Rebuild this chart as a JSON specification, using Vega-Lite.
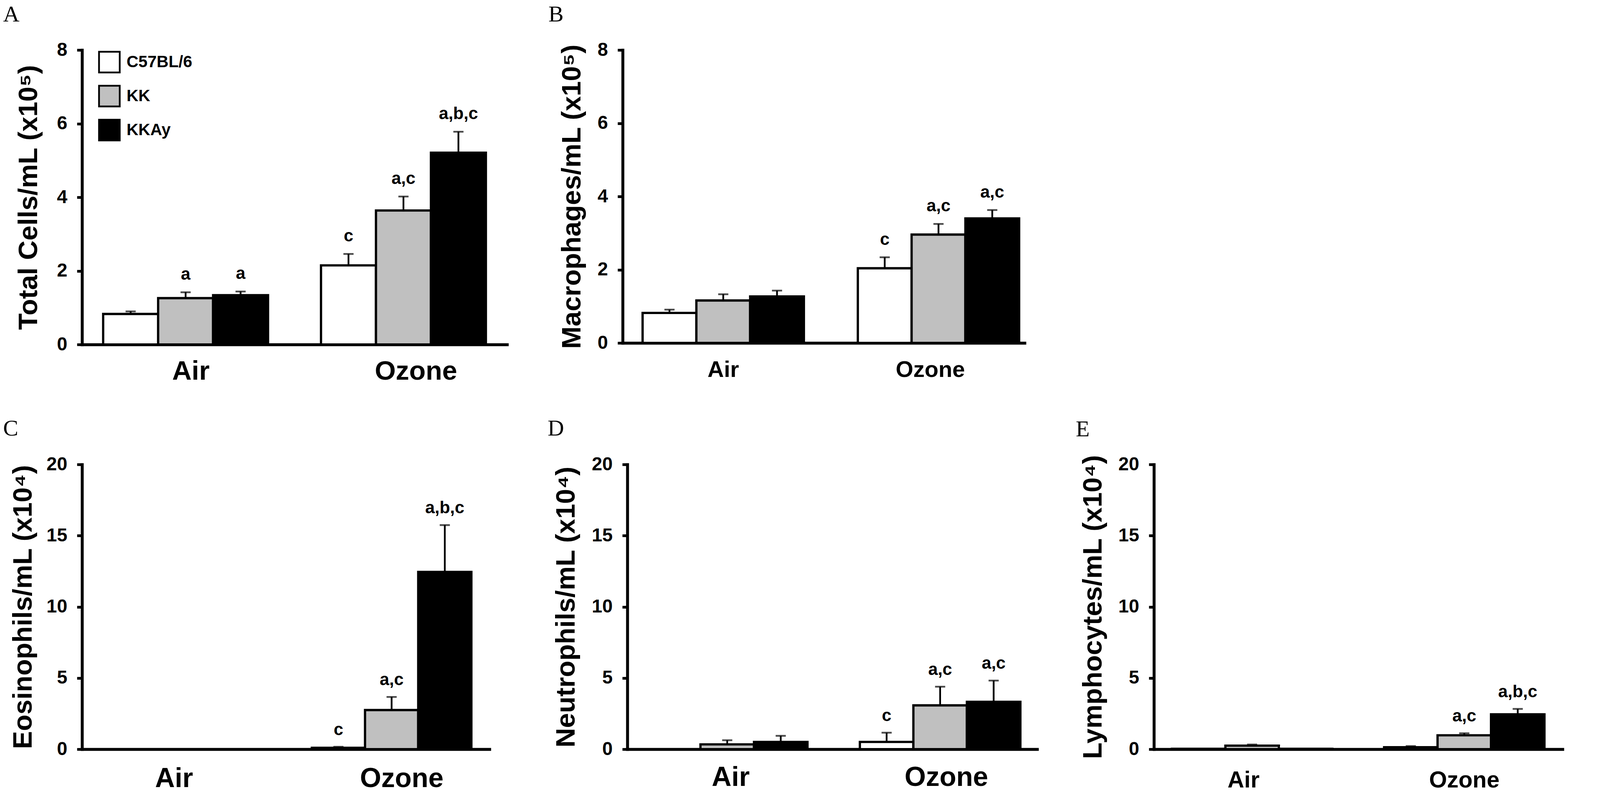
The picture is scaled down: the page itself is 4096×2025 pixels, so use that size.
{
  "$schema": "https://vega.github.io/schema/vega-lite/v6.json",
  "background": "white",
  "padding": {"left": 8, "top": 9, "right": 10, "bottom": 0},
  "config": {
    "view": {"stroke": null},
    "font": "Liberation Sans",
    "axis": {"domainColor": "black", "domainWidth": 7.5, "domainCap": "square", "tickColor": "black", "tickWidth": 7, "tickSize": 13, "labelColor": "black", "labelFont": "Liberation Sans", "labelFontWeight": "bold", "labelLimit": 0, "titleColor": "black", "titleFont": "Liberation Sans", "titleFontWeight": "bold", "titleFontSize": 69, "titleLimit": 0, "grid": false},
    "axisX": {"ticks": false, "labelAngle": 0, "title": null},
    "axisY": {"labelFontSize": 48, "labelPadding": 25, "format": "d"},
    "legend": {"labelLimit": 0},
    "title": {"font": "Liberation Serif", "fontSize": 58, "fontWeight": "normal", "color": "black", "anchor": "start", "frame": "group", "offset": 0, "baseline": "alphabetic"}
  },
  "datasets": {
    "A": [
      {"exposure": "Air", "strain": "C57BL/6", "value": 0.83, "err": 0.90, "sig": ""},
      {"exposure": "Air", "strain": "KK", "value": 1.26, "err": 1.42, "sig": "a"},
      {"exposure": "Air", "strain": "KKAy", "value": 1.34, "err": 1.44, "sig": "a"},
      {"exposure": "Ozone", "strain": "C57BL/6", "value": 2.15, "err": 2.46, "sig": "c"},
      {"exposure": "Ozone", "strain": "KK", "value": 3.64, "err": 4.02, "sig": "a,c"},
      {"exposure": "Ozone", "strain": "KKAy", "value": 5.21, "err": 5.78, "sig": "a,b,c"}
    ],
    "B": [
      {"exposure": "Air", "strain": "C57BL/6", "value": 0.82, "err": 0.91, "sig": ""},
      {"exposure": "Air", "strain": "KK", "value": 1.16, "err": 1.33, "sig": ""},
      {"exposure": "Air", "strain": "KKAy", "value": 1.27, "err": 1.43, "sig": ""},
      {"exposure": "Ozone", "strain": "C57BL/6", "value": 2.04, "err": 2.34, "sig": "c"},
      {"exposure": "Ozone", "strain": "KK", "value": 2.96, "err": 3.25, "sig": "a,c"},
      {"exposure": "Ozone", "strain": "KKAy", "value": 3.40, "err": 3.63, "sig": "a,c"}
    ],
    "C": [
      {"exposure": "Air", "strain": "C57BL/6", "value": 0, "sig": ""},
      {"exposure": "Air", "strain": "KK", "value": 0, "sig": ""},
      {"exposure": "Air", "strain": "KKAy", "value": 0, "sig": ""},
      {"exposure": "Ozone", "strain": "C57BL/6", "value": 0.1, "err": 0.17, "sig": "c"},
      {"exposure": "Ozone", "strain": "KK", "value": 2.75, "err": 3.67, "sig": "a,c"},
      {"exposure": "Ozone", "strain": "KKAy", "value": 12.45, "err": 15.74, "sig": "a,b,c"}
    ],
    "D": [
      {"exposure": "Air", "strain": "C57BL/6", "value": 0, "sig": ""},
      {"exposure": "Air", "strain": "KK", "value": 0.34, "err": 0.63, "sig": ""},
      {"exposure": "Air", "strain": "KKAy", "value": 0.51, "err": 0.94, "sig": ""},
      {"exposure": "Ozone", "strain": "C57BL/6", "value": 0.51, "err": 1.16, "sig": "c"},
      {"exposure": "Ozone", "strain": "KK", "value": 3.08, "err": 4.39, "sig": "a,c"},
      {"exposure": "Ozone", "strain": "KKAy", "value": 3.33, "err": 4.82, "sig": "a,c"}
    ],
    "E": [
      {"exposure": "Air", "strain": "C57BL/6", "value": 0.03, "sig": ""},
      {"exposure": "Air", "strain": "KK", "value": 0.25, "err": 0.33, "sig": ""},
      {"exposure": "Air", "strain": "KKAy", "value": 0.03, "sig": ""},
      {"exposure": "Ozone", "strain": "C57BL/6", "value": 0.14, "err": 0.22, "sig": ""},
      {"exposure": "Ozone", "strain": "KK", "value": 0.98, "err": 1.12, "sig": "a,c"},
      {"exposure": "Ozone", "strain": "KKAy", "value": 2.45, "err": 2.83, "sig": "a,b,c"}
    ]
  },
  "spacing": 1061,
  "bounds": "flush",
  "resolve": {"scale": {"color": "independent", "xOffset": "independent"}, "legend": {"color": "independent"}},
  "vconcat": [
    {
      "spacing": 296,
      "bounds": "flush",
      "resolve": {"scale": {"color": "independent", "xOffset": "independent"}, "legend": {"color": "independent"}},
      "hconcat": [
        {
          "width": 1088, "height": 754,
          "title": {"text": "A", "dx": -202, "dy": -33},
          "data": {"name": "A"},
          "encoding": {
            "x": {"field": "exposure", "type": "nominal", "sort": ["Air", "Ozone"],
              "scale": {"paddingInner": 0.243, "paddingOuter": 0.097, "align": 0.5},
              "axis": {"labelFontSize": 69, "labelPadding": 34, "labelOffset": {"condition": {"test": "datum.value === 'Ozone'", "value": 32}, "value": 13.5}}},
            "xOffset": {"field": "strain", "type": "nominal", "sort": ["C57BL/6", "KK", "KKAy"], "scale": {"paddingInner": 0, "paddingOuter": 0}}
          },
          "layer": [
            {"mark": {"type": "bar", "stroke": "black", "strokeWidth": 5.8},
             "encoding": {
               "y": {"field": "value", "type": "quantitative", "scale": {"domain": [0, 8], "nice": false}, "axis": {"values": [0, 2, 4, 6, 8], "title": "Total Cells/mL (x10⁵)", "titleX": -101.6, "titleY": 377}},
               "color": {"field": "strain", "type": "nominal", "sort": ["C57BL/6", "KK", "KKAy"], "scale": {"domain": ["C57BL/6", "KK", "KKAy"], "range": ["white", "#c0c0c0", "black"]},
                 "legend": {"orient": "none", "legendX": 41, "legendY": 2, "title": null, "symbolType": "square", "symbolSize": 2809, "symbolStrokeColor": "black", "symbolStrokeWidth": 4.5, "labelFont": "Liberation Sans", "labelFontWeight": "bold", "labelFontSize": 42, "labelColor": "black", "labelOffset": 15, "labelLimit": 0, "rowPadding": 15, "padding": 0}}
             }},
            {"transform": [{"filter": "isValid(datum.err)"}], "mark": {"type": "rule", "color": "black", "strokeWidth": 4.5},
             "encoding": {"y": {"field": "value", "type": "quantitative"}, "y2": {"field": "err"}}},
            {"transform": [{"filter": "isValid(datum.err)"}], "mark": {"type": "tick", "color": "black", "size": 26, "thickness": 4.5},
             "encoding": {"y": {"field": "err", "type": "quantitative"}}},
            {"transform": [{"filter": "datum.sig != ''"}], "mark": {"type": "text", "font": "Liberation Sans", "fontWeight": "bold", "fontSize": 44, "color": "black", "baseline": "alphabetic", "dy": -32},
             "encoding": {"y": {"field": "err", "type": "quantitative"}, "text": {"field": "sig"}}}
          ]
        },
        {
          "width": 1029, "height": 750,
          "title": {"text": "B", "dx": -190, "dy": -33},
          "data": {"name": "B"},
          "encoding": {
            "x": {"field": "exposure", "type": "nominal", "sort": ["Air", "Ozone"],
              "scale": {"paddingInner": 0.2505, "paddingOuter": 0.059, "align": 0.785},
              "axis": {"labelFontSize": 58, "labelPadding": 40, "labelOffset": {"condition": {"test": "datum.value === 'Ozone'", "value": -21}, "value": 0}}},
            "xOffset": {"field": "strain", "type": "nominal", "sort": ["C57BL/6", "KK", "KKAy"], "scale": {"paddingInner": 0, "paddingOuter": 0}}
          },
          "layer": [
            {"mark": {"type": "bar", "stroke": "black", "strokeWidth": 5.8},
             "encoding": {
               "y": {"field": "value", "type": "quantitative", "scale": {"domain": [0, 8], "nice": false}, "axis": {"values": [0, 2, 4, 6, 8], "title": "Macrophages/mL (x10⁵)", "titleX": -94.6, "titleY": 375}},
               "color": {"field": "strain", "type": "nominal", "sort": ["C57BL/6", "KK", "KKAy"], "scale": {"domain": ["C57BL/6", "KK", "KKAy"], "range": ["white", "#c0c0c0", "black"]}, "legend": null}
             }},
            {"transform": [{"filter": "isValid(datum.err)"}], "mark": {"type": "rule", "color": "black", "strokeWidth": 4.5},
             "encoding": {"y": {"field": "value", "type": "quantitative"}, "y2": {"field": "err"}}},
            {"transform": [{"filter": "isValid(datum.err)"}], "mark": {"type": "tick", "color": "black", "size": 26, "thickness": 4.5},
             "encoding": {"y": {"field": "err", "type": "quantitative"}}},
            {"transform": [{"filter": "datum.sig != ''"}], "mark": {"type": "text", "font": "Liberation Sans", "fontWeight": "bold", "fontSize": 44, "color": "black", "baseline": "alphabetic", "dy": -32},
             "encoding": {"y": {"field": "err", "type": "quantitative"}, "text": {"field": "sig"}}}
          ]
        }
      ]
    },
    {
      "spacing": 353,
      "bounds": "flush",
      "resolve": {"scale": {"color": "independent", "xOffset": "independent"}, "legend": {"color": "independent"}},
      "hconcat": [
        {
          "width": 1043, "height": 729,
          "title": {"text": "C", "dx": -202, "dy": -34},
          "data": {"name": "C"},
          "encoding": {
            "x": {"field": "exposure", "type": "nominal", "sort": ["Air", "Ozone"],
              "scale": {"paddingInner": 0.26, "paddingOuter": 0.0748, "align": 0.44},
              "axis": {"labelFontSize": 70, "labelPadding": 41, "labelOffset": {"condition": {"test": "datum.value === 'Ozone'", "value": 26}, "value": -5}}},
            "xOffset": {"field": "strain", "type": "nominal", "sort": ["C57BL/6", "KK", "KKAy"], "scale": {"paddingInner": 0, "paddingOuter": 0}}
          },
          "layer": [
            {"mark": {"type": "bar", "stroke": "black", "strokeWidth": 5.8},
             "encoding": {
               "y": {"field": "value", "type": "quantitative", "scale": {"domain": [0, 20], "nice": false}, "axis": {"values": [0, 5, 10, 15, 20], "title": "Eosinophils/mL (x10⁴)", "titleX": -116, "titleY": 364.5}},
               "color": {"field": "strain", "type": "nominal", "sort": ["C57BL/6", "KK", "KKAy"], "scale": {"domain": ["C57BL/6", "KK", "KKAy"], "range": ["white", "#c0c0c0", "black"]}, "legend": null}
             }},
            {"transform": [{"filter": "isValid(datum.err)"}], "mark": {"type": "rule", "color": "black", "strokeWidth": 4.5},
             "encoding": {"y": {"field": "value", "type": "quantitative"}, "y2": {"field": "err"}}},
            {"transform": [{"filter": "isValid(datum.err)"}], "mark": {"type": "tick", "color": "black", "size": 26, "thickness": 4.5},
             "encoding": {"y": {"field": "err", "type": "quantitative"}}},
            {"transform": [{"filter": "datum.sig != ''"}], "mark": {"type": "text", "font": "Liberation Sans", "fontWeight": "bold", "fontSize": 44, "color": "black", "baseline": "alphabetic", "dy": -30},
             "encoding": {"y": {"field": "err", "type": "quantitative"}, "text": {"field": "sig"}}}
          ]
        },
        {
          "spacing": 299,
          "bounds": "flush",
          "resolve": {"scale": {"color": "independent", "xOffset": "independent"}, "legend": {"color": "independent"}},
          "hconcat": [
            {
              "width": 1049, "height": 729,
              "title": {"text": "D", "dx": -204, "dy": -34},
              "data": {"name": "D"},
              "encoding": {
                "x": {"field": "exposure", "type": "nominal", "sort": ["Air", "Ozone"],
                  "scale": {"paddingInner": 0.246, "paddingOuter": 0.0853, "align": 0.54},
                  "axis": {"labelFontSize": 70, "labelPadding": 38, "labelOffset": {"condition": {"test": "datum.value === 'Ozone'", "value": 16}, "value": 9}}},
                "xOffset": {"field": "strain", "type": "nominal", "sort": ["C57BL/6", "KK", "KKAy"], "scale": {"paddingInner": 0, "paddingOuter": 0}}
              },
              "layer": [
                {"mark": {"type": "bar", "stroke": "black", "strokeWidth": 5.8},
                 "encoding": {
                   "y": {"field": "value", "type": "quantitative", "scale": {"domain": [0, 20], "nice": false}, "axis": {"values": [0, 5, 10, 15, 20], "title": "Neutrophils/mL (x10⁴)", "titleX": -122, "titleY": 364.5}},
                   "color": {"field": "strain", "type": "nominal", "sort": ["C57BL/6", "KK", "KKAy"], "scale": {"domain": ["C57BL/6", "KK", "KKAy"], "range": ["white", "#c0c0c0", "black"]}, "legend": null}
                 }},
                {"transform": [{"filter": "isValid(datum.err)"}], "mark": {"type": "rule", "color": "black", "strokeWidth": 4.5},
                 "encoding": {"y": {"field": "value", "type": "quantitative"}, "y2": {"field": "err"}}},
                {"transform": [{"filter": "isValid(datum.err)"}], "mark": {"type": "tick", "color": "black", "size": 26, "thickness": 4.5},
                 "encoding": {"y": {"field": "err", "type": "quantitative"}}},
                {"transform": [{"filter": "datum.sig != ''"}], "mark": {"type": "text", "font": "Liberation Sans", "fontWeight": "bold", "fontSize": 44, "color": "black", "baseline": "alphabetic", "dy": -30},
                 "encoding": {"y": {"field": "err", "type": "quantitative"}, "text": {"field": "sig"}}}
              ]
            },
            {
              "width": 1046, "height": 729,
              "title": {"text": "E", "dx": -200, "dy": -31},
              "data": {"name": "E"},
              "encoding": {
                "x": {"field": "exposure", "type": "nominal", "sort": ["Air", "Ozone"],
                  "scale": {"paddingInner": 0.244, "paddingOuter": 0.085, "align": 0.5},
                  "axis": {"labelFontSize": 59, "labelPadding": 50, "labelOffset": {"condition": {"test": "datum.value === 'Ozone'", "value": 0}, "value": -22}}},
                "xOffset": {"field": "strain", "type": "nominal", "sort": ["C57BL/6", "KK", "KKAy"], "scale": {"paddingInner": 0, "paddingOuter": 0}}
              },
              "layer": [
                {"mark": {"type": "bar", "stroke": "black", "strokeWidth": 5.8},
                 "encoding": {
                   "y": {"field": "value", "type": "quantitative", "scale": {"domain": [0, 20], "nice": false}, "axis": {"values": [0, 5, 10, 15, 20], "title": "Lymphocytes/mL (x10⁴)", "titleX": -121, "titleY": 364.5}},
                   "color": {"field": "strain", "type": "nominal", "sort": ["C57BL/6", "KK", "KKAy"], "scale": {"domain": ["C57BL/6", "KK", "KKAy"], "range": ["white", "#c0c0c0", "black"]}, "legend": null}
                 }},
                {"transform": [{"filter": "isValid(datum.err)"}], "mark": {"type": "rule", "color": "black", "strokeWidth": 4.5},
                 "encoding": {"y": {"field": "value", "type": "quantitative"}, "y2": {"field": "err"}}},
                {"transform": [{"filter": "isValid(datum.err)"}], "mark": {"type": "tick", "color": "black", "size": 26, "thickness": 4.5},
                 "encoding": {"y": {"field": "err", "type": "quantitative"}}},
                {"transform": [{"filter": "datum.sig != ''"}], "mark": {"type": "text", "font": "Liberation Sans", "fontWeight": "bold", "fontSize": 44, "color": "black", "baseline": "alphabetic", "dy": -30},
                 "encoding": {"y": {"field": "err", "type": "quantitative"}, "text": {"field": "sig"}}}
              ]
            }
          ]
        }
      ]
    }
  ]
}
